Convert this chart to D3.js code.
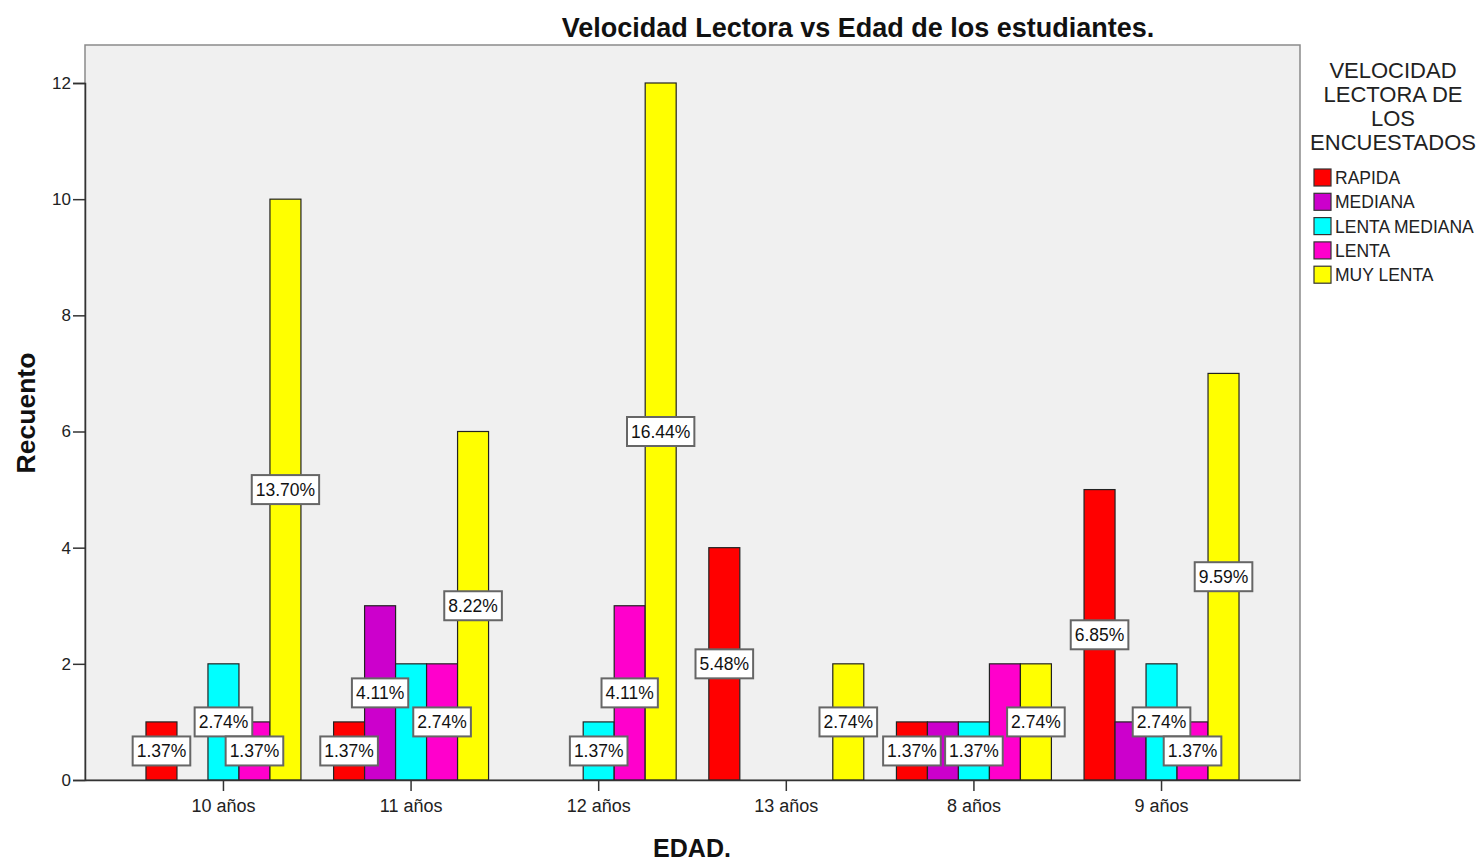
<!DOCTYPE html>
<html>
<head>
<meta charset="utf-8">
<script src="https://cdn.jsdelivr.net/npm/d3@7"></script>
<style>
  body { margin: 0; background: #fff; }
  svg { font-family: "Liberation Sans", Arial, sans-serif; }
</style>
</head>
<body>
<div id="chart"></div>
<script>
// data
const ages = ["10 años", "11 años", "12 años", "13 años", "8 años", "9 años"];
const speeds = ["RAPIDA", "MEDIANA", "LENTA MEDIANA", "LENTA", "MUY LENTA"];
const rapida = [1, 1, 0, 4, 1, 5];
const mediana = [0, 3, 0, 0, 1, 1];
const lentaMediana = [2, 2, 1, 0, 1, 2];
const lenta = [1, 2, 3, 0, 2, 1];
const muyLenta = [10, 6, 12, 2, 2, 7];
const yTicks = [0, 2, 4, 6, 8, 10, 12];
// labels SPSS left out (category, series)
const hiddenLabels = [["11 años", "LENTA MEDIANA"], ["8 años", "MEDIANA"], ["8 años", "LENTA"], ["9 años", "MEDIANA"]];

const colors = ["#ff0000", "#cc00cc", "#00ffff", "#ff00cc", "#ffff00"];
const seriesValues = [rapida, mediana, lentaMediana, lenta, muyLenta];

const total = d3.sum(seriesValues.flat());

const width = 1480, height = 861;
const plot = { left: 85, right: 1300, top: 45, bottom: 780 };

const svg = d3.select("#chart").append("svg")
    .attr("width", width)
    .attr("height", height);

const x = d3.scaleBand()
    .domain(ages)
    .range([plot.left, plot.right])
    .paddingInner(0.174)
    .paddingOuter(0.325);

const xInner = d3.scaleBand()
    .domain(speeds)
    .range([0, x.bandwidth()]);

const y = d3.scaleLinear()
    .domain([0, 12])
    .range([plot.bottom, 83]);

// plot background
svg.append("rect")
    .attr("x", plot.left)
    .attr("y", plot.top)
    .attr("width", plot.right - plot.left)
    .attr("height", plot.bottom - plot.top)
    .attr("fill", "#f0f0f0")
    .attr("stroke", "#8a8a8a")
    .attr("stroke-width", 1.5);

// bars
const bars = [];
ages.forEach((age, i) => {
    speeds.forEach((s, j) => {
        bars.push({ age, speed: s, value: seriesValues[j][i], color: colors[j] });
    });
});

svg.append("g")
    .selectAll("rect")
    .data(bars.filter(d => d.value > 0))
    .join("rect")
        .attr("x", d => x(d.age) + xInner(d.speed))
        .attr("y", d => y(d.value))
        .attr("width", xInner.bandwidth())
        .attr("height", d => y(0) - y(d.value))
        .attr("fill", d => d.color)
        .attr("stroke", "#222")
        .attr("stroke-width", 1.2);

// axes
const leftAxis = d3.axisLeft(y).tickValues(yTicks).tickSize(12).tickPadding(2);
const gy = svg.append("g")
    .attr("transform", `translate(${plot.left},0)`)
    .call(leftAxis);
gy.select(".domain").attr("stroke", "#333").attr("stroke-width", 1.5);
gy.selectAll(".tick line").attr("stroke", "#333").attr("stroke-width", 1.5);
gy.selectAll(".tick text")
    .style("font-size", "17px")
    .style("font-family", "Liberation Sans, Arial, sans-serif")
    .attr("fill", "#222");

const bottomAxis = d3.axisBottom(x).tickSize(11).tickSizeOuter(0).tickPadding(8);
const gx = svg.append("g")
    .attr("transform", `translate(0,${plot.bottom})`)
    .call(bottomAxis);
gx.select(".domain").attr("stroke", "#333").attr("stroke-width", 1.5);
gx.selectAll(".tick line").attr("stroke", "#333").attr("stroke-width", 1.5);
gx.selectAll(".tick text")
    .style("font-size", "18px")
    .style("font-family", "Liberation Sans, Arial, sans-serif")
    .attr("fill", "#222");

// percentage labels
const isHidden = d => hiddenLabels.some(h => h[0] === d.age && h[1] === d.speed);
const labels = svg.append("g")
    .selectAll("g")
    .data(bars.filter(d => d.value > 0 && !isHidden(d)))
    .join("g")
        .attr("transform", d => `translate(${x(d.age) + xInner(d.speed) + xInner.bandwidth() / 2},${y(d.value / 2)})`);

labels.append("text")
    .attr("text-anchor", "middle")
    .attr("dy", "0.36em")
    .attr("font-size", 17.5)
    .attr("fill", "#111")
    .text(d => (d.value / total * 100).toFixed(2) + "%");

labels.each(function() {
    const g = d3.select(this);
    const bb = g.select("text").node().getBBox();
    g.insert("rect", "text")
        .attr("x", bb.x - 4)
        .attr("y", -14.5)
        .attr("width", bb.width + 8)
        .attr("height", 29)
        .attr("fill", "#fff")
        .attr("stroke", "#666")
        .attr("stroke-width", 2);
});

// titles
svg.append("text")
    .attr("x", 858)
    .attr("y", 37)
    .attr("text-anchor", "middle")
    .attr("font-size", 27)
    .attr("font-weight", "bold")
    .attr("fill", "#111")
    .text("Velocidad Lectora vs Edad de los estudiantes.");

svg.append("text")
    .attr("transform", "translate(35,413) rotate(-90)")
    .attr("text-anchor", "middle")
    .attr("font-size", 26.5)
    .attr("font-weight", "bold")
    .attr("fill", "#111")
    .text("Recuento");

svg.append("text")
    .attr("x", 692)
    .attr("y", 857)
    .attr("text-anchor", "middle")
    .attr("font-size", 25)
    .attr("font-weight", "bold")
    .attr("fill", "#111")
    .text("EDAD.");

// legend
const legendTitle = ["VELOCIDAD", "LECTORA DE", "LOS", "ENCUESTADOS"];
svg.append("g")
    .selectAll("text")
    .data(legendTitle)
    .join("text")
        .attr("x", 1393)
        .attr("y", (d, i) => 78 + i * 24)
        .attr("text-anchor", "middle")
        .attr("font-size", 22)
        .attr("fill", "#222")
        .text(d => d);

const legend = svg.append("g")
    .selectAll("g")
    .data(speeds)
    .join("g")
        .attr("transform", (d, i) => `translate(1314,${169 + i * 24.3})`);

legend.append("rect")
    .attr("width", 17)
    .attr("height", 17)
    .attr("fill", (d, i) => colors[i])
    .attr("stroke", "#333")
    .attr("stroke-width", 1.2);

legend.append("text")
    .attr("x", 21)
    .attr("y", 15)
    .attr("font-size", 17.5)
    .attr("fill", "#222")
    .text(d => d);
</script>
</body>
</html>
